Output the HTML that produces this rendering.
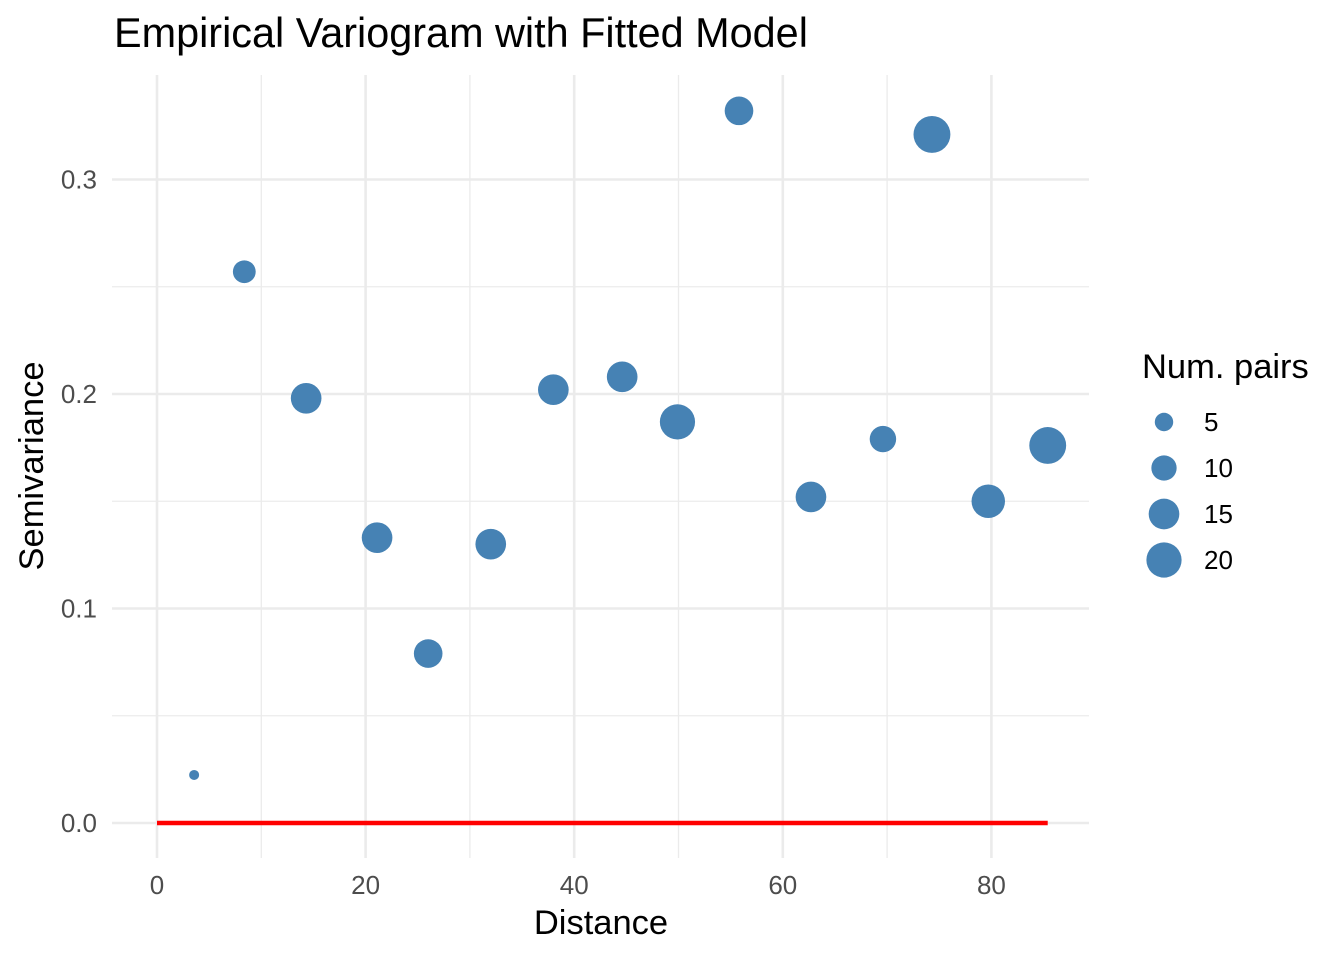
<!DOCTYPE html>
<html><head><meta charset="utf-8"><style>
body{margin:0;background:#fff;font-family:"Liberation Sans",sans-serif;}
</style></head><body>
<svg id="chart" width="1344" height="960" xmlns="http://www.w3.org/2000/svg">
<rect width="1344" height="960" fill="#fff"/>
<text x="114" y="47" font-size="41.4" fill="#000" font-family="Liberation Sans, sans-serif">Empirical Variogram with Fitted Model</text>
<g id="grid"></g><g id="marks"></g><g id="axes"></g>
<text x="601" y="934" font-size="34.5" text-anchor="middle" font-family="Liberation Sans, sans-serif">Distance</text>
<text transform="translate(43,466) rotate(-90)" font-size="34.5" text-anchor="middle" font-family="Liberation Sans, sans-serif">Semivariance</text>
<g id="legend">
<text x="1142" y="378" font-size="34.5" font-family="Liberation Sans, sans-serif">Num. pairs</text>
</g>
</svg>
<script>
const dist=[3.56,8.37,14.3,21.1,26.0,32.0,38.0,44.6,49.9,55.8,62.7,69.6,74.3,79.7,85.4];
const gamma=[0.0224,0.257,0.198,0.133,0.079,0.130,0.202,0.208,0.187,0.332,0.152,0.179,0.321,0.150,0.176];
const npairs=[1,8,15,15,13,15,15,15,20,13,15,11,22,18,22];
const xTicks=[0,20,40,60,80];
const yTicks=[0,0.1,0.2,0.3];
const xMinor=[10,30,50,70];
const yMinor=[0.05,0.15,0.25];
const legendVals=[5,10,15,20];
const modelX=[0,85.4];
const modelY=[0,0];
const NS="http://www.w3.org/2000/svg";
const X=v=>157+v*10.43;
const Y=v=>823-v*2145;
const R=n=>Math.sqrt(15*n+10);
function el(p,t,a){const e=document.createElementNS(NS,t);for(const k in a)e.setAttribute(k,a[k]);p.appendChild(e);return e;}
const grid=document.getElementById('grid'),marks=document.getElementById('marks'),axes=document.getElementById('axes'),leg=document.getElementById('legend');
const L=112,Rt=1089,T=75,B=858;
xMinor.forEach(v=>{const g=el(grid,'line',{x1:X(v),x2:X(v),y1:T,y2:B,stroke:'#ebebeb','stroke-width':1.3});

});
yMinor.forEach(v=>{const g=el(grid,'line',{x1:L,x2:Rt,y1:Y(v),y2:Y(v),stroke:'#ebebeb','stroke-width':1.3});

});
xTicks.forEach(v=>{const g=el(grid,'line',{x1:X(v),x2:X(v),y1:T,y2:B,stroke:'#ebebeb','stroke-width':2.6});


const t=el(axes,'text',{x:X(v),y:894,'font-size':26,'text-anchor':'middle',fill:'#4d4d4d','font-family':'Liberation Sans, sans-serif'});t.textContent=v;

});
yTicks.forEach(v=>{const g=el(grid,'line',{x1:L,x2:Rt,y1:Y(v),y2:Y(v),stroke:'#ebebeb','stroke-width':2.6});


const t=el(axes,'text',{x:97,y:Y(v)+9,'font-size':26,'text-anchor':'end',fill:'#4d4d4d','font-family':'Liberation Sans, sans-serif'});t.textContent=v.toFixed(1);

});
const ln=el(marks,'line',{x1:X(modelX[0]),x2:X(modelX[1]),y1:Y(modelY[0]),y2:Y(modelY[1]),stroke:'#ff0000','stroke-width':4.5});


dist.forEach((d,i)=>{const c=el(marks,'circle',{cx:X(d),cy:Y(gamma[i]),r:R(npairs[i]),fill:'#4682b4'});

});
legendVals.forEach((n,i)=>{const cy=422+i*46;
const c=el(leg,'circle',{cx:1164,cy:cy,r:R(n),fill:'#4682b4'});


const t=el(leg,'text',{x:1204,y:cy+9,'font-size':26,fill:'#000','font-family':'Liberation Sans, sans-serif'});t.textContent=n;

});
</script>
</body></html>
